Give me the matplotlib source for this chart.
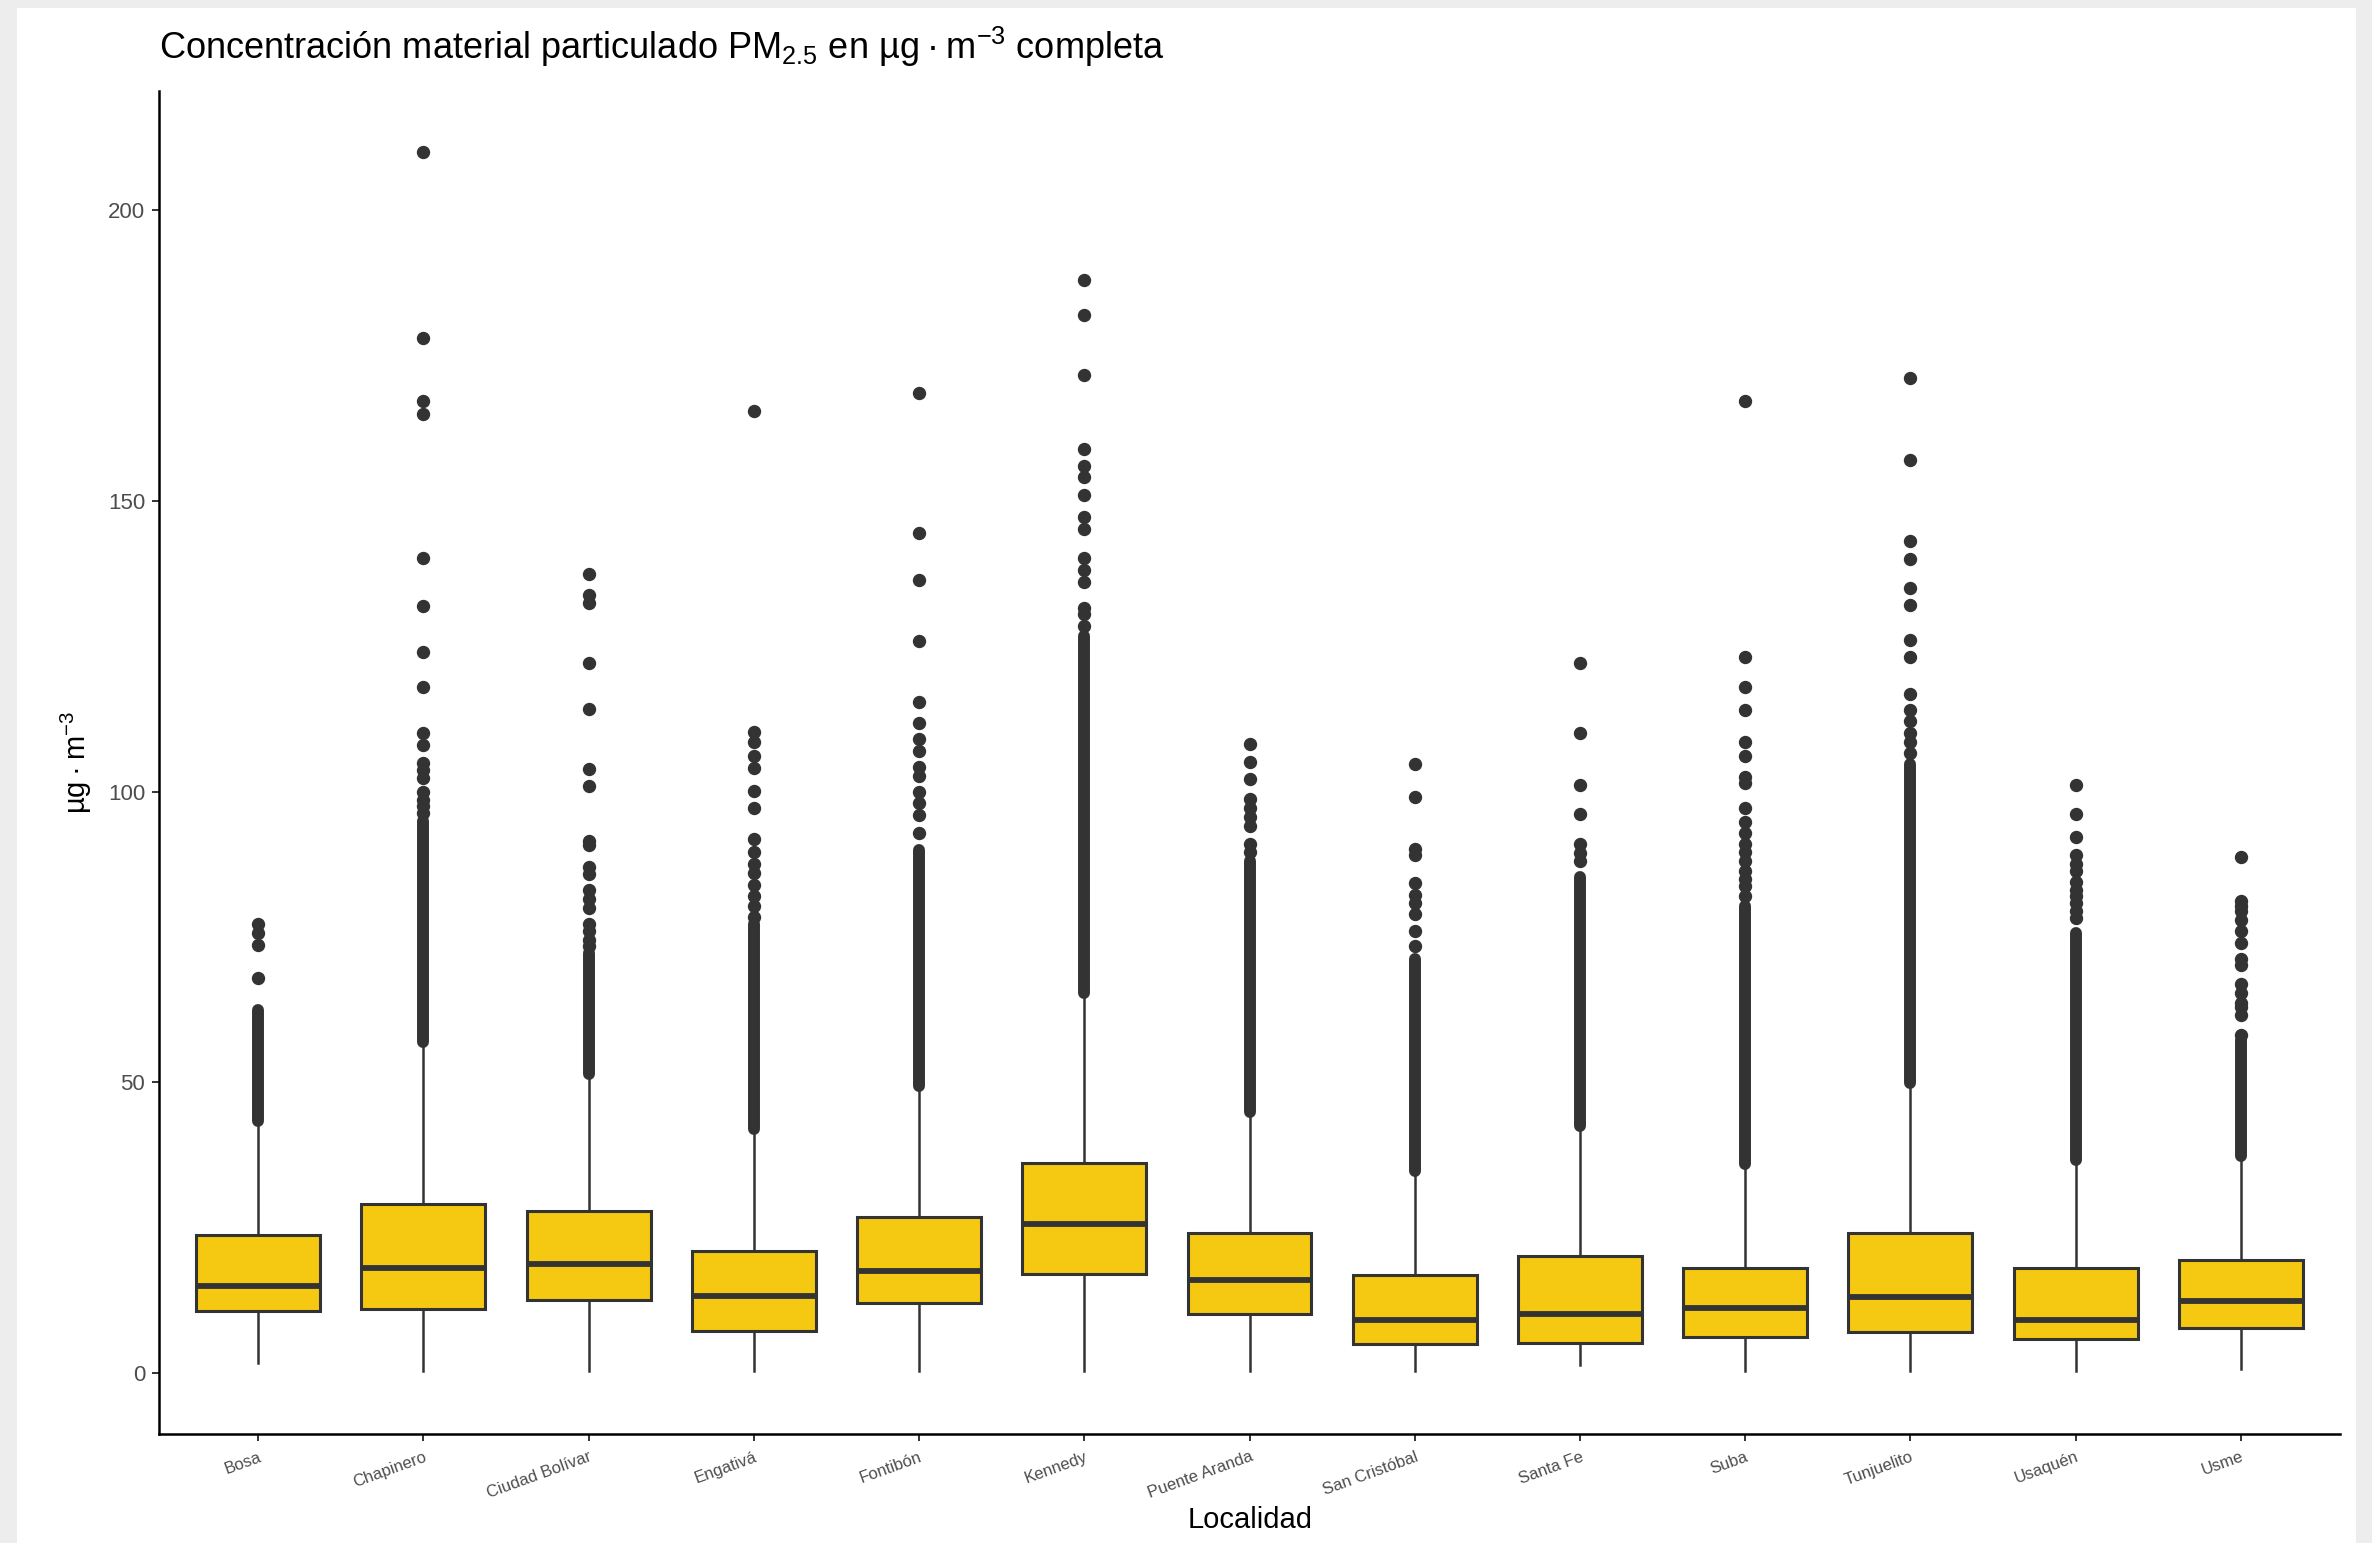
import numpy as np
import matplotlib
matplotlib.use("Agg")
import matplotlib.pyplot as plt
from matplotlib.patches import Rectangle

plt.rcParams['font.family'] = ['Liberation Sans', 'DejaVu Sans']
plt.rcParams['mathtext.fontset'] = 'custom'
plt.rcParams['mathtext.rm'] = 'Liberation Sans'
plt.rcParams['mathtext.it'] = 'Liberation Sans:italic'

localidades = ['Bosa', 'Chapinero', 'Ciudad Bolívar', 'Engativá', 'Fontibón', 'Kennedy',
               'Puente Aranda', 'San Cristóbal', 'Santa Fe', 'Suba', 'Tunjuelito',
               'Usaquén', 'Usme']

# box statistics (µg/m3)
q1 = [10.7, 11.0, 12.5, 7.3, 12.1, 17.1, 10.1, 5.0, 5.1, 6.2, 7.1, 5.9, 7.7]
mediana = [15.0, 18.1, 18.7, 13.3, 17.6, 25.6, 16.0, 9.1, 10.1, 11.1, 13.0, 9.1, 12.4]
q3 = [23.7, 29.0, 27.8, 21.0, 26.8, 36.1, 24.0, 16.9, 20.1, 18.1, 24.1, 18.1, 19.5]
bigote_bajo = [1.7, 0.3, 0.3, 0.3, 0.3, 0.3, 0.3, 0.3, 1.3, 0.3, 0.3, 0.3, 0.7]
bigote_alto = [43.0, 56.3, 50.8, 41.6, 48.8, 64.6, 44.6, 34.5, 42.1, 35.6, 49.6, 36.3, 37.0]

# continuous runs of outliers (too dense to separate)
denso_desde = [43.3, 56.9, 51.5, 42.0, 49.4, 65.3, 44.9, 34.8, 42.4, 35.9, 49.9, 36.6, 37.3]
denso_hasta = [62.4, 95.0, 72.3, 77.2, 90.0, 126.7, 88.0, 71.2, 85.3, 80.4, 104.8, 75.6, 57.2]

# isolated outliers
atipicos = [
    [68.0, 73.6, 75.6, 77.2],
    [96.3, 97.5, 98.5, 100.0, 102.4, 103.7, 105.0, 108.0, 110.0, 118.0, 124.0, 132.0,
     140.1, 164.9, 167.1, 178.0, 210.0],
    [73.4, 74.5, 76.0, 77.2, 79.9, 81.5, 83.1, 85.9, 87.0, 90.8, 91.5, 101.0, 103.9,
     114.2, 122.1, 132.4, 133.8, 137.5],
    [78.5, 80.4, 82.0, 84.0, 86.0, 87.5, 89.6, 91.8, 97.2, 100.1, 104.0, 106.1, 108.6,
     110.2, 165.4],
    [92.9, 96.0, 98.1, 99.9, 102.6, 104.3, 107.0, 109.1, 111.8, 115.4, 125.9, 136.4,
     144.5, 168.5],
    [128.5, 130.6, 131.5, 136.0, 138.1, 140.2, 145.1, 147.2, 151.0, 154.1, 156.0, 159.0,
     171.6, 182.0, 188.0],
    [89.6, 90.9, 94.0, 95.6, 97.2, 98.8, 102.1, 105.1, 108.1],
    [73.4, 76.1, 79.0, 80.9, 82.2, 84.2, 89.1, 90.1, 99.1, 104.7],
    [88.0, 89.5, 90.9, 96.1, 101.1, 110.1, 122.1],
    [82.0, 83.7, 85.0, 86.4, 88.0, 89.6, 91.0, 92.9, 94.8, 97.2, 101.5, 102.5, 106.1,
     108.6, 114.0, 118.0, 123.1, 167.1],
    [106.6, 108.6, 110.0, 112.2, 114.0, 116.7, 123.1, 126.1, 132.1, 135.1, 140.0, 143.1,
     157.0, 171.1],
    [78.3, 79.5, 80.9, 82.0, 83.1, 84.5, 86.4, 87.5, 89.1, 92.1, 96.1, 101.1],
    [58.2, 61.5, 63.0, 63.7, 65.4, 66.9, 70.1, 71.2, 73.9, 76.1, 77.9, 79.5, 80.4, 81.2,
     88.8],
]

yticks = [0, 50, 100, 150, 200]

amarillo = '#F5C812'
oscuro = '#333333'

fig = plt.figure(figsize=(23.72, 15.43), dpi=100, facecolor='#EDEDED')
fig.patches.append(Rectangle((17 / 2372, 0), (2356 - 17) / 2372, 1 - 8 / 1543,
                             transform=fig.transFigure, facecolor='white',
                             edgecolor='none', zorder=-5))

ax = fig.add_axes([159 / 2372, 1 - 1434 / 1543, (2340 - 159) / 2372, (1434 - 91) / 1543])
ax.set_zorder(2)
ax.set_facecolor('white')

pos = np.arange(1, len(localidades) + 1)
stats = []
for i, nombre in enumerate(localidades):
    stats.append(dict(label=nombre, med=mediana[i], q1=q1[i], q3=q3[i],
                      whislo=bigote_bajo[i], whishi=bigote_alto[i],
                      fliers=np.array(atipicos[i])))

# dense outlier runs drawn as thick round-capped strokes
bandas = ax.vlines(pos, denso_desde, denso_hasta, color=oscuro, linewidth=8.6, zorder=3)
bandas.set_capstyle('round')

ax.bxp(stats, positions=pos, widths=0.75, patch_artist=True, showcaps=False,
       boxprops=dict(facecolor=amarillo, edgecolor=oscuro, linewidth=2.2),
       medianprops=dict(color=oscuro, linewidth=4.2),
       whiskerprops=dict(color=oscuro, linewidth=1.8),
       flierprops=dict(marker='o', markerfacecolor=oscuro, markeredgecolor=oscuro,
                       markersize=8.6, linestyle='none'),
       zorder=2)

ax.set_xlim(0.4, 13.6)
ax.set_ylim(-10.5, 220.5)
ax.set_yticks(yticks)
ax.set_yticklabels([str(v) for v in yticks])
ax.set_xticks(pos)
ax.set_xticklabels(localidades, rotation=20, ha='right', va='top', rotation_mode='anchor')

for s in ['top', 'right']:
    ax.spines[s].set_visible(False)
for s in ['left', 'bottom']:
    ax.spines[s].set_color('black')
    ax.spines[s].set_linewidth(1.8)

ax.tick_params(axis='y', colors='#333333', labelcolor='#4D4D4D', labelsize=16,
               length=5, width=1.4, pad=5)
ax.tick_params(axis='x', colors='#333333', labelcolor='#4D4D4D', labelsize=12,
               length=5, width=1.4, pad=6)

fig.text(159 / 2372, 1 - 47 / 1543,
         'Concentración material particulado PM$_{2.5}$ en µg\u2009·\u2009m$^{-3}$ completa',
         ha='left', va='center', fontsize=26, color='black')
fig.text(76 / 2372, 1 - 762 / 1543, 'µg\u2009·\u2009m$^{-3}$', rotation=90,
         ha='center', va='center', fontsize=21, color='black')
fig.text(1250 / 2372, 1 - 1520 / 1543, 'Localidad', ha='center', va='center',
         fontsize=21, color='black')

fig.savefig('out.png', dpi=100, facecolor=fig.get_facecolor())
